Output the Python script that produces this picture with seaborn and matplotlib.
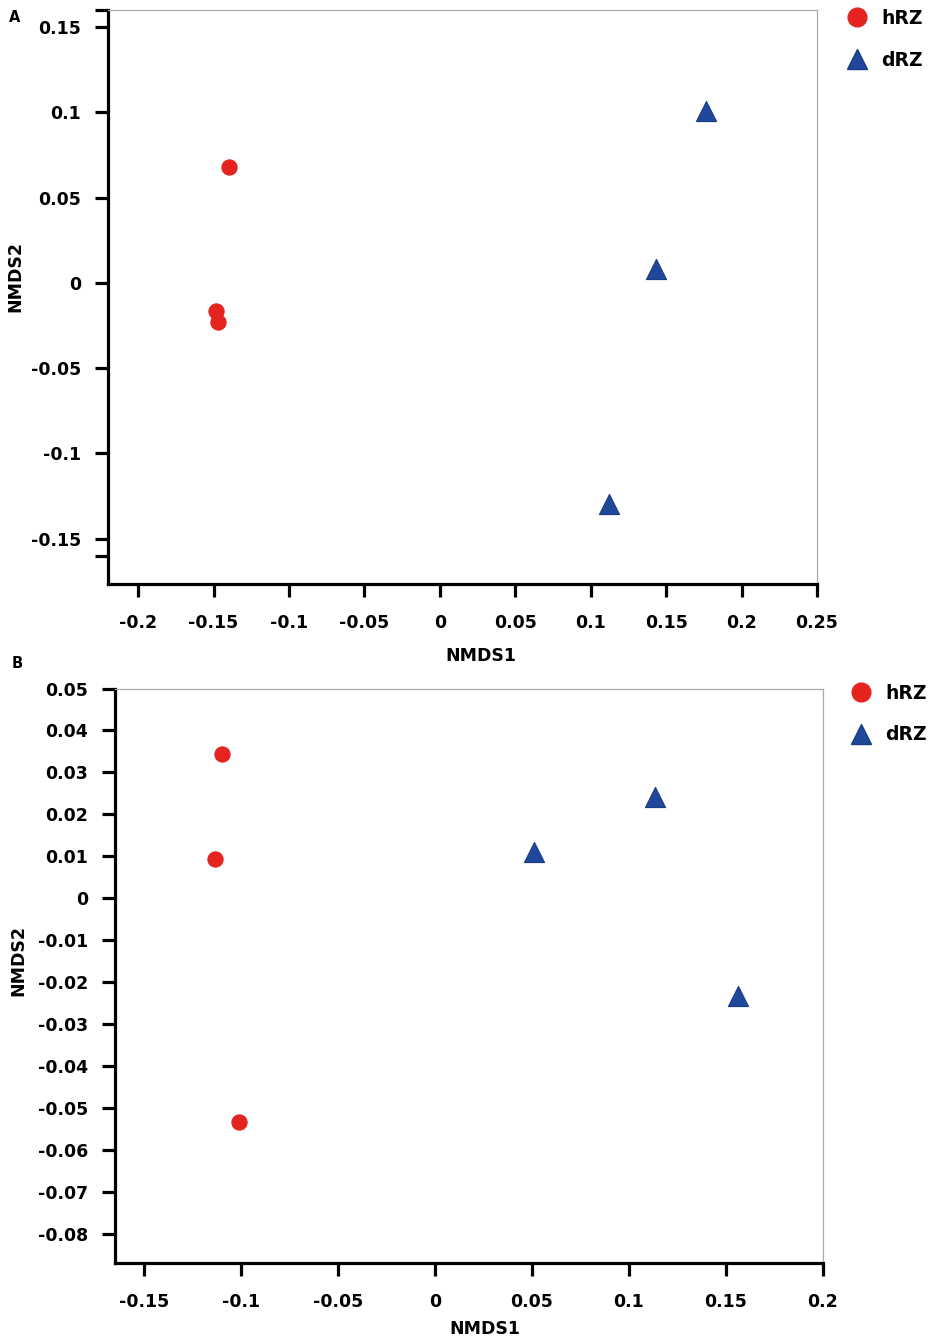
import matplotlib
matplotlib.use("Agg")
import matplotlib.pyplot as plt
import seaborn as sns
import pandas as pd
from matplotlib.lines import Line2D

# ---- data ----
groups = ["hRZ", "hRZ", "hRZ", "dRZ", "dRZ", "dRZ"]
a_nmds1 = [-0.140, -0.1485, -0.147, 0.1764, 0.1434, 0.112]
a_nmds2 = [0.0677, -0.0163, -0.0231, 0.1008, 0.0082, -0.1298]
b_nmds1 = [-0.1098, -0.1136, -0.1009, 0.1137, 0.0510, 0.1563]
b_nmds2 = [0.0343, 0.0094, -0.0533, 0.0241, 0.0111, -0.0233]

a_xticks = [-0.2, -0.15, -0.1, -0.05, 0, 0.05, 0.1, 0.15, 0.2, 0.25]
a_xlabels = ["-0.2", "-0.15", "-0.1", "-0.05", "0", "0.05", "0.1", "0.15", "0.2", "0.25"]
a_yticks = [0.16, 0.15, 0.1, 0.05, 0, -0.05, -0.1, -0.15, -0.16]
a_ylabels = ["", "0.15", "0.1", "0.05", "0", "-0.05", "-0.1", "-0.15", ""]
b_xticks = [-0.15, -0.1, -0.05, 0, 0.05, 0.1, 0.15, 0.2]
b_xlabels = ["-0.15", "-0.1", "-0.05", "0", "0.05", "0.1", "0.15", "0.2"]
b_yticks = [0.05, 0.04, 0.03, 0.02, 0.01, 0, -0.01, -0.02, -0.03, -0.04, -0.05, -0.06, -0.07, -0.08]
b_ylabels = ["0.05", "0.04", "0.03", "0.02", "0.01", "0", "-0.01", "-0.02", "-0.03",
             "-0.04", "-0.05", "-0.06", "-0.07", "-0.08"]

palette = {"hRZ": "#E52420", "dRZ": "#1F479A"}
edges = {"hRZ": "#E52420", "dRZ": "#1A3C85"}
markers = {"hRZ": "o", "dRZ": "^"}

sns.set_theme(style="white")
plt.rcParams["font.family"] = ["DejaVu Sans"]
plt.rcParams["font.weight"] = "bold"
plt.rcParams["text.color"] = "black"

fig = plt.figure(figsize=(9.29, 13.39), dpi=100)
W, H = 929, 1339

def px_axes(l, t, r, b):
    return fig.add_axes([l / W, 1 - b / H, (r - l) / W, (b - t) / H])

axA = px_axes(108, 10, 817, 584)
axB = px_axes(115, 688.5, 822.7, 1263)

FS = 12.5

def draw(ax, x, y, xlim, ylim, xt, xl, yt, yl, ms_o, ms_t):
    df = pd.DataFrame({"NMDS1": x, "NMDS2": y, "group": groups})
    for g in ["hRZ", "dRZ"]:
        sub = df[df.group == g]
        sns.scatterplot(data=sub, x="NMDS1", y="NMDS2", ax=ax,
                        color=palette[g], marker=markers[g],
                        s=ms_o if g == "hRZ" else ms_t,
                        edgecolor=edges[g], linewidth=0.8, legend=False, zorder=3)
    ax.set_xlim(*xlim)
    ax.set_ylim(*ylim)
    ax.set_xticks(xt)
    ax.set_xticklabels(xl)
    ax.set_yticks(yt)
    ax.set_yticklabels(yl)
    for s in ["left", "bottom"]:
        ax.spines[s].set_color("black")
        ax.spines[s].set_linewidth(2.3)
    for s in ["top", "right"]:
        ax.spines[s].set_color("#aaaaaa")
        ax.spines[s].set_linewidth(0.9)
    ax.tick_params(axis="both", which="major", direction="out", length=9.5, width=2.3,
                   color="black", labelsize=FS, labelcolor="black",
                   bottom=True, left=True, top=False, right=False)
    ax.tick_params(axis="x", pad=12)
    ax.tick_params(axis="y", pad=10)
    for lab in ax.get_xticklabels() + ax.get_yticklabels():
        lab.set_fontweight("bold")
    ax.set_xlabel("NMDS1", fontsize=FS, fontweight="bold", color="black")
    ax.set_ylabel("NMDS2", fontsize=FS, fontweight="bold", color="black")
    ax.grid(False)

draw(axA, a_nmds1, a_nmds2, (-0.22, 0.25), (-0.1766, 0.1594),
     a_xticks, a_xlabels, a_yticks, a_ylabels, 120, 210)
draw(axB, b_nmds1, b_nmds2, (-0.165, 0.2), (-0.0869, 0.05),
     b_xticks, b_xlabels, b_yticks, b_ylabels, 120, 210)

axA.xaxis.set_label_coords((481 - 108) / 709, (584 - 647) / 574)
axA.yaxis.set_label_coords((24 - 108) / 709, (584 - 277) / 574)
axB.xaxis.set_label_coords((485 - 115) / 707.7, (1263 - 1320) / 574.5)
axB.yaxis.set_label_coords((27 - 115) / 707.7, (1263 - 960) / 574.5)

# legends
def add_legend(anchor_px):
    handles = [
        Line2D([], [], linestyle="none", marker="o", markersize=13.5,
               markerfacecolor=palette["hRZ"], markeredgecolor=edges["hRZ"], label="hRZ"),
        Line2D([], [], linestyle="none", marker="^", markersize=15,
               markerfacecolor=palette["dRZ"], markeredgecolor=edges["dRZ"], label="dRZ"),
    ]
    leg = fig.legend(handles=handles, loc="upper left",
                     bbox_to_anchor=(anchor_px[0] / W, 1 - anchor_px[1] / H),
                     frameon=False, prop={"weight": "bold", "size": 13.5},
                     handletextpad=0.55, labelspacing=1.2, borderaxespad=0,
                     borderpad=0, handlelength=1.5, labelcolor="black")
    return leg

add_legend((843, 9))
add_legend((847, 684))

fig.text(15 / W, 1 - 18 / H, "A", fontsize=10.5, fontweight="bold", ha="center", va="center")
fig.text(17 / W, 1 - 663 / H, "B", fontsize=10.5, fontweight="bold", ha="center", va="center")

fig.savefig("out.png", dpi=100, facecolor="white")
